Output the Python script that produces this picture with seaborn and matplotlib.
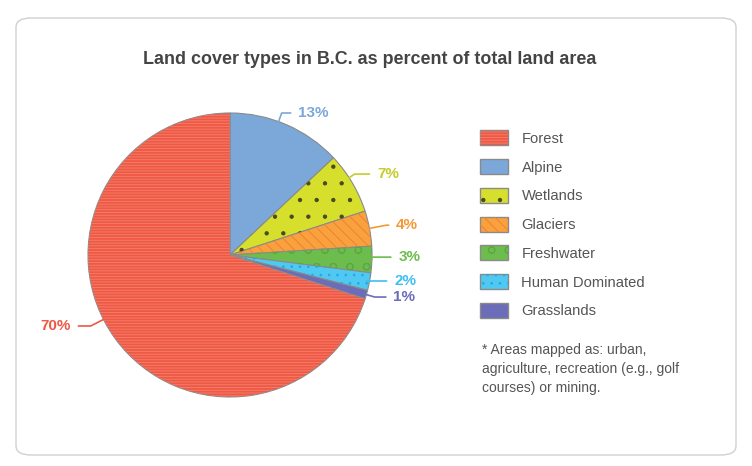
import numpy as np
import matplotlib
matplotlib.use("Agg")
import matplotlib.pyplot as plt
from matplotlib.patches import FancyBboxPatch, Wedge
from matplotlib.legend_handler import HandlerTuple
import seaborn as sns

# data
categories = ["Forest", "Alpine", "Wetlands", "Glaciers", "Freshwater",
              "Human Dominated", "Grasslands"]
percents = [70, 13, 7, 4, 3, 2, 1]
pct_labels = ["70%", "13%", "7%", "4%", "3%", "2%", "1%"]
note = "* Areas mapped as: urban,\nagriculture, recreation (e.g., golf\ncourses) or mining."
title = "Land cover types in B.C. as percent of total land area"

sns.set_theme(style="white")
plt.rcParams['font.family'] = ['Liberation Sans', 'DejaVu Sans']
plt.rcParams['hatch.linewidth'] = 0.7

fills = ["#ee5844", "#7ba7d9", "#d6e02c", "#f9a23d", "#6cbd4d", "#4fc9f2", "#6b6db8"]
hatch_cols = ["#f47c68", None, "#4a4a22", "#f27f35", "#5aa83f", "#2aa8e0", "#5a5ca8"]
hatches = ["------", None, ".", "\\\\\\", "o", "..", None]
text_cols = ["#ee5844", "#7ba7d9", "#c5cc2a", "#f39a36", "#6cbd4d", "#3fbff0", "#6b6db8"]

W, H = 752, 466
fig = plt.figure(figsize=(W / 100, H / 100), dpi=100)
fig.patch.set_facecolor("white")

# rounded card behind everything
card = FancyBboxPatch((16 / W, 11 / H), 720 / W, 437 / H,
                      boxstyle="round,pad=0,rounding_size=0.02",
                      transform=fig.transFigure, facecolor="white",
                      edgecolor="#d0d0d0", linewidth=1.0, zorder=-5)
fig.patches.append(card)

fig.text(370 / W, 1 - 59 / H, title, ha="center", va="center",
         fontsize=12.9, fontweight="bold", color="#444444")

# pie axes, center (230,255) px, radius 142 px
cx, cy, R = 230, 255, 142
ax = fig.add_axes([(cx - R) / W, (H - cy - R) / H, 2 * R / W, 2 * R / H])
ax.set_facecolor("none")
ax.set_zorder(2)

# drawing order: Alpine first from 12 o'clock clockwise, Forest last
order = [1, 2, 3, 4, 5, 6, 0]
vals = [percents[i] for i in order]
wedges, _ = ax.pie(vals, colors=[fills[i] for i in order], startangle=90,
                   counterclock=False, radius=1.0,
                   wedgeprops=dict(edgecolor="#8a8a8a", linewidth=0.8))
for w, i in zip(wedges, order):
    if hatches[i]:
        ax.add_patch(Wedge(w.center, w.r, w.theta1, w.theta2, facecolor="none",
                           edgecolor=hatch_cols[i], linewidth=0, hatch=hatches[i]))

# percent labels with elbow leader lines
label_xy = {0: (-1.12, -0.50), 1: (0.48, 1.0), 2: (1.035, 0.57), 3: (1.17, 0.21),
            4: (1.185, -0.015), 5: (1.155, -0.183), 6: (1.15, -0.296)}
anchor_angle = {0: -153, 1: 70, 2: 33}
for w, i in zip(wedges, order):
    ang = anchor_angle.get(i, (w.theta1 + w.theta2) / 2)
    px, py = np.cos(np.deg2rad(ang)), np.sin(np.deg2rad(ang))
    tx, ty = label_xy[i]
    right = tx > 0
    ax.annotate(pct_labels[i], xy=(px, py), xytext=(tx, ty),
                ha="left" if right else "right", va="center",
                fontsize=11, fontweight="bold", color=text_cols[i],
                arrowprops=dict(arrowstyle="-", color=text_cols[i], lw=1.2,
                                shrinkA=3, shrinkB=0,
                                relpos=(0, 0.5) if right else (1, 0.5),
                                connectionstyle="angle,angleA=0,angleB=%.1f,rad=0"
                                % ang))
ax.set_xlim(-1, 1)
ax.set_ylim(-1, 1)
ax.set_aspect("equal")
ax.axis("off")

# legend
handles = []
for i in range(len(categories)):
    base = plt.Rectangle((0, 0), 1, 1, facecolor=fills[i], edgecolor="#8a8a8a",
                         linewidth=1.0)
    if hatches[i]:
        hp = plt.Rectangle((0, 0), 1, 1, facecolor="none", edgecolor=hatch_cols[i],
                           linewidth=0, hatch=hatches[i])
        handles.append((base, hp))
    else:
        handles.append(base)
leg = fig.legend(handles, categories, loc="upper left",
                 bbox_to_anchor=(467 / W, 1 - 117 / H), frameon=False,
                 fontsize=10.6, handlelength=1.9, handleheight=1.2,
                 labelspacing=0.9, handletextpad=0.9,
                 handler_map={tuple: HandlerTuple(ndivide=1, pad=0)})
for t in leg.get_texts():
    t.set_color("#555555")

fig.text(482 / W, 1 - 343 / H, note, ha="left", va="top", fontsize=10,
         color="#555555", linespacing=1.45)

fig.savefig("out.png", dpi=100)
